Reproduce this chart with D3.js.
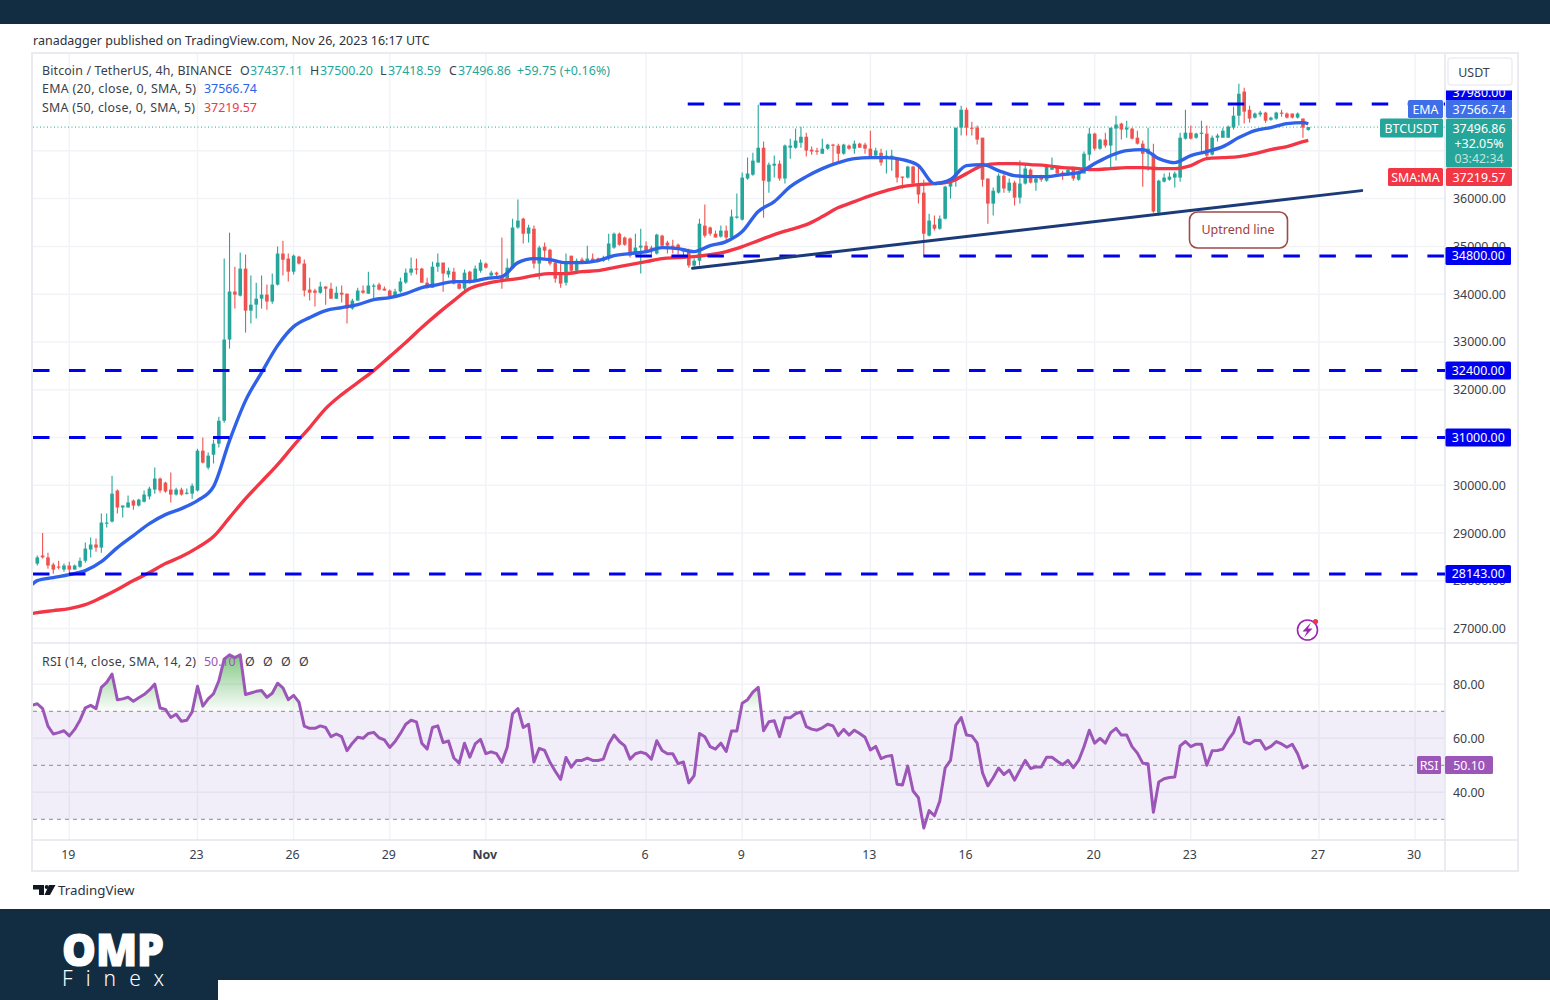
<!DOCTYPE html>
<html><head><meta charset="utf-8">
<script src="https://cdn.jsdelivr.net/npm/d3@7/dist/d3.min.js"></script>
<style>
html,body{margin:0;padding:0;background:#fff}
svg{display:block}
text{font-family:"Noto Sans",sans-serif}
.axis .domain,.axis line{display:none}
</style></head><body><svg id="c" width="1550" height="1000"></svg>
<script>
// ---------- data: 4h candles, bar 0 = 19 Oct 00:00, first bar = -6
const firstBar = -6;
const opens = [
28360,28530,28490,28340,28300,28235,28320,28235,28295,28420,
28655,28760,28695,29200,29240,29890,29535,29535,29680,29575,
29655,29765,29910,30140,30055,29910,29805,29910,29825,29825,
29890,30725,30370,30640,30870,31350,33050,34055,33970,34535,
33655,33780,33905,33990,33845,34200,34850,34745,34470,34785,
34640,34095,34075,34030,34160,34115,33905,34030,34010,33700,
33865,34075,34010,34160,34200,34115,34075,33950,34055,34245,
34450,34535,34535,34240,34135,34575,34660,34410,34470,34220,
34115,34470,34285,34490,34640,34390,34450,34345,34325,34555,
35395,35580,35265,35370,34640,34995,34930,34660,34430,34240,
34805,34490,34725,34660,34745,34745,34700,34745,34975,35265,
35185,35165,34850,34975,35015,34975,34850,35225,35080,35015,
35035,34890,34910,34600,34700,35435,35395,35265,35205,35330,
35185,35605,35560,36420,36500,36755,37065,36355,36690,36730,
36420,37065,37065,37170,37295,37025,37005,36940,37045,37130,
37110,36940,37110,37045,37150,37130,37045,36900,36960,36840,
36840,36840,36460,36440,36670,36270,36125,35225,35455,35370,
35580,36250,36375,37485,37860,37485,37485,37275,36420,35895,
36125,36480,36165,36335,36020,36315,36605,36335,36460,36375,
36605,36650,36545,36525,36630,36395,36525,36920,37360,37045,
37235,37110,37465,37570,37445,37465,37275,37150,36940,36940,
35705,36355,36395,36440,36440,37255,37380,37275,37360,37360,
36920,37275,37275,37275,37485,37735,38240,37860,37695,37760,
37800,37650,37675,37800,37780,37780,37695,37675,37437.11];
const highs = [
28530,29000,28590,28380,28420,28360,28400,28340,28490,28800,
28905,28885,29410,29410,30200,29910,29575,29785,29700,29720,
29890,29970,30370,30160,30075,30265,29950,29950,29930,30035,
30765,31000,30685,30955,31435,34745,35288,34575,34870,34830,
34390,34240,34390,34200,34430,34995,35120,34850,34830,34805,
34725,34345,34115,34260,34160,34240,34160,34180,34010,33905,
34135,34180,34470,34220,34240,34160,34095,34115,34345,34535,
34765,34745,34555,34345,34680,34850,34660,34555,34555,34240,
34515,34490,34600,34725,34660,34490,34470,35185,34745,35580,
35980,35600,35455,35435,35015,35080,34950,34700,34640,34850,
34805,34745,34765,35015,34850,34765,34805,35265,35290,35290,
35205,35185,35265,35370,35100,35015,35265,35245,35120,35140,
35060,34950,34950,34745,35580,35875,35415,35330,35435,35435,
35770,36105,36545,36860,36960,37965,37195,36755,36900,36795,
37130,37255,37465,37505,37380,37090,37065,37255,37150,37150,
37150,37150,37130,37215,37170,37170,37420,37065,37045,37005,
37025,36860,36460,36690,36690,36670,36395,35685,35645,35645,
36270,36420,37485,37945,37905,37610,37530,37275,36420,36230,
36525,36525,36420,36375,36795,36710,36630,36440,36500,36710,
36860,36670,36585,36650,36670,36585,36985,37485,37380,37255,
37380,37485,37735,37590,37630,37485,37420,37215,37485,37150,
36395,36525,36545,36565,37380,37860,37530,37380,37630,37530,
37320,37360,37485,37530,37925,38405,38320,37945,37800,37840,
37820,37715,37820,37860,37800,37780,37800,37675,37500.20];
const lows = [
28320,28465,28255,28150,28235,28190,28110,28235,28275,28380,
28490,28610,28590,29115,29220,29410,29325,29535,29490,29555,
29640,29700,29825,29845,29845,29640,29785,29785,29805,29720,
29870,30455,30330,30455,30790,31310,32860,33700,33950,33195,
33385,33490,33700,33675,33800,34180,34390,34265,34410,34620,
33950,33865,33740,34010,33780,33905,33905,33825,33385,33675,
33865,34010,34010,33905,34075,34075,33930,33930,34030,34220,
34390,34410,34240,34115,34135,34470,34050,34345,34200,34095,
34010,34220,34265,34450,34535,34365,34325,34115,34285,34535,
35370,35060,35080,34535,34305,34765,34600,34240,34135,34180,
34430,34470,34640,34640,34660,34660,34680,34700,34950,35015,
35015,34765,34805,34430,34850,34830,34830,34975,34850,34850,
34830,34765,34555,34575,34600,35185,35225,35185,35185,35120,
35185,35580,35540,36395,36480,36755,35600,36125,36440,36375,
36315,36835,37045,37065,36880,36920,36920,36940,37025,36690,
36755,36920,37025,36940,37065,36940,36840,36840,36690,36525,
36585,36335,36210,36420,36270,35895,34805,35205,35330,35350,
35560,36000,36250,37320,37320,37320,37130,36250,35475,35645,
36105,36125,36125,35855,35895,36295,36315,36165,36355,36355,
36605,36525,36395,36480,36375,36375,36525,36795,37005,37025,
37065,36650,36795,37235,37275,37235,37130,36250,36585,35705,
35645,36335,36375,36230,36355,37235,37235,37255,36960,36835,
36900,37195,37275,37275,37445,37530,37570,37590,37675,37715,
37590,37630,37650,37715,37675,37675,37675,37275,37418.59];
const closes = [
28490,28490,28320,28235,28280,28320,28235,28320,28420,28675,
28760,28695,29220,29220,29825,29535,29575,29640,29575,29700,
29805,29930,30140,29890,29870,29805,29910,29805,29845,29990,
30725,30475,30620,30870,31350,33050,34055,33990,34535,33655,
33780,33905,33990,33845,34200,34850,34720,34470,34805,34640,
34075,34030,34030,34160,34115,33905,34030,33990,33700,33865,
34075,34030,34180,34180,34095,34075,33950,34055,34265,34450,
34535,34515,34240,34135,34575,34660,34430,34490,34220,34115,
34450,34240,34535,34660,34555,34450,34410,34285,34555,35395,
35540,35265,35395,34640,34975,34910,34640,34325,34220,34640,
34490,34700,34660,34745,34680,34680,34745,35060,35265,35035,
35035,34805,34975,35015,34910,34955,35245,35015,35015,34995,
34930,34930,34600,34700,35475,35225,35265,35185,35330,35185,
35625,35625,36440,36525,36795,37065,36375,36710,36730,36420,
37110,37110,37215,37295,37005,36985,36985,37045,37130,37110,
36940,37130,37045,37150,37065,37045,36860,37005,36755,36900,
36900,36440,36440,36670,36315,36085,35265,35540,35370,35580,
36250,36375,37485,37860,37485,37465,37235,36395,35895,36165,
36480,36210,36335,36020,36315,36630,36335,36420,36395,36670,
36650,36525,36525,36605,36420,36545,36940,37360,37045,37235,
37110,37485,37550,37445,37485,37255,37150,36940,37045,35730,
36375,36440,36460,36525,37275,37380,37255,37360,37380,36900,
37275,37320,37420,37505,37735,38195,37820,37675,37780,37800,
37630,37695,37800,37780,37695,37695,37780,37485,37496.86];

// moving averages read at the pane's left edge, then every third bar from bar -6, plus the last bar
const emaValues = [27921,
28005,28068,28130,28214,28402,28695,28947,29198,29386,29512,
29679,29972,30935,31772,32358,32923,33321,33509,33656,33719,
33781,33886,33928,34012,34137,34200,34263,34263,34326,34367,
34660,34744,34723,34660,34660,34702,34807,34849,34891,34974,
34953,34891,35016,35100,35309,35728,35937,36251,36460,36628,
36753,36837,36858,36858,36816,36691,36314,36398,36691,36712,
36586,36481,36460,36460,36502,36544,36733,36900,37005,37026,
36837,36753,36900,36984,37088,37277,37423,37486,37570,37591,37566.74];
const smaValues = [27314,
27335,27377,27419,27502,27649,27816,28005,28172,28361,28507,
28695,28926,29323,29721,30077,30433,30830,31207,31605,31898,
32149,32400,32693,32986,33300,33593,33865,34116,34221,34284,
34326,34388,34430,34430,34472,34493,34556,34619,34681,34744,
34765,34786,34828,34891,34995,35121,35246,35351,35456,35623,
35812,35937,36063,36167,36251,36293,36314,36356,36523,36691,
36733,36733,36712,36691,36649,36628,36607,36628,36649,36649,
36628,36628,36691,36837,36858,36879,36942,37026,37088,37193,37219.57];
const maBars = [-7].concat(d3.range(-6, 232, 3), [232]);

const rsiFirstBar = -7;
const rsiValues = [72.2,
72.8,71.0,64.5,61.6,62.1,62.8,60.9,63.3,66.7,71.3,
72.2,71.0,78.9,80.7,83.8,74.3,74.6,75.2,73.7,75.0,
76.2,77.9,80.1,71.2,70.7,67.7,68.9,66.3,66.7,69.8,
79.3,71.9,74.6,76.5,81.3,89.3,90.9,89.9,90.9,76.2,
76.8,77.4,77.7,75.2,76.7,80.4,78.7,74.3,75.9,73.4,
64.5,63.7,63.7,64.6,64.0,60.6,61.6,60.6,55.4,58.2,
60.4,60.0,61.8,62.2,60.2,59.4,56.6,58.8,61.8,65.2,
66.7,66.1,58.2,56.0,
64.0,64.6,58.4,59.0,52.7,50.8,58.2,53.0,57.9,59.6,54.3,55.0,54.3,51.1,56.7,69.1,71.0,64.0,65.2,51.2,
56.3,55.5,51.1,47.8,44.8,52.9,49.3,51.8,51.8,52.7,51.8,51.8,52.3,57.9,61.2,58.8,57.2,52.3,54.3,54.9,
54.3,52.3,59.1,55.5,54.3,54.3,50.6,51.2,43.5,46.2,61.8,60.6,56.9,56.0,58.2,55.1,62.7,62.7,73.0,74.3,
77.1,78.9,62.8,66.1,66.5,60.6,67.6,67.6,69.1,69.8,64.3,63.4,63.0,63.9,65.2,64.6,61.0,63.3,61.2,63.0,
61.8,60.4,55.7,57.0,52.5,53.3,53.6,43.0,42.7,49.7,40.5,38.0,26.8,33.2,
31.3,36.8,49.0,51.8,64.9,67.7,61.2,60.9,58.2,47.2,42.4,45.4,49.0,46.6,48.2,44.5,48.2,51.8,48.8,49.4,
49.4,53.0,53.0,51.5,50.2,51.8,49.1,51.8,56.9,63.0,58.2,60.0,58.2,62.1,63.7,61.2,61.2,56.9,54.5,50.8,
50.6,32.6,43.8,45.0,45.5,45.7,57.2,58.8,56.9,57.8,57.8,50.0,55.4,55.5,56.0,59.4,62.1,67.7,58.8,57.9,
59.2,59.2,56.0,57.0,58.8,57.9,56.7,57.8,54.3,49.0,50.10];

const levelPrices = [37980, 34800, 32400, 31000, 28143];
const levelStartBars = [115.8, 106, -6.8, -6.8, -6.8];
const trendBars = [116.7, 242];
const trendPrices = [34541, 36167];

const gridPrices = [27000,28000,29000,30000,31000,32000,33000,34000,35000,36000,37000];
const priceTicks = [27000,28000,29000,30000,32000,33000,34000,35000,36000];
const rsiTicks = [40,60,80];
const rsiGuides = [70,50,30];
const dayBars = [0,24,42,60,78,108,126,150,168,192,210,234,252];
const dayLabels = ["19","23","26","29","Nov","6","9","13","16","20","23","27","30"];

// ---------- palette / scales
const UP="#26a69a", DOWN="#ef5350", BLUE="#2f62e8", RED="#f23645", PURPLE="#9c56b8", NAVY="#122c42", LEVEL="#0000f0", TXT="#3a3e4a";
const svg=d3.select("#c");
const L=33,R=1445,T=54,PB=643,RT=644,RB=840,FR=1517,FB=870;
const x=d3.scaleLinear().domain([-6.8,257.6]).range([L,R]);
const y=d3.scaleLinear().domain([27000,36000]).range([628.6,198.6]);
const ry=d3.scaleLinear().domain([40,80]).range([792.3,684.3]);

// page furniture
svg.append("rect").attr("width",1550).attr("height",1000).attr("fill","#fff");
svg.append("rect").attr("width",1550).attr("height",24).attr("fill",NAVY);
svg.append("text").attr("x",33).attr("y",44.5).attr("font-size",12.5).attr("fill","#2e323c")
  .text("ranadagger published on TradingView.com, Nov 26, 2023 16:17 UTC");
svg.append("rect").attr("x",L-1).attr("y",T-1).attr("width",FR-L+2).attr("height",FB-T+2).attr("fill","#fff").attr("stroke","#e9ebf0").attr("stroke-width",2);

// gridlines
const grid=svg.append("g").attr("stroke","#f2f3f7").attr("stroke-width",1.5);
gridPrices.forEach(p=>grid.append("line").attr("x1",L).attr("x2",R).attr("y1",y(p)).attr("y2",y(p)));
rsiTicks.forEach(p=>grid.append("line").attr("x1",L).attr("x2",R).attr("y1",ry(p)).attr("y2",ry(p)));
dayBars.forEach(b=>grid.append("line").attr("x1",x(b)).attr("x2",x(b)).attr("y1",T).attr("y2",RB));

// RSI pane
svg.append("rect").attr("x",L).attr("width",R-L).attr("y",ry(70)).attr("height",ry(30)-ry(70)).attr("fill","#7e57c2").attr("opacity",.1);
const defs=svg.append("defs");
const gr=defs.append("linearGradient").attr("id","ob").attr("gradientUnits","userSpaceOnUse").attr("x1",0).attr("x2",0).attr("y1",ry(91)).attr("y2",ry(70));
gr.append("stop").attr("offset",0).attr("stop-color","#4caf50").attr("stop-opacity",.7);
gr.append("stop").attr("offset",1).attr("stop-color","#4caf50").attr("stop-opacity",.02);
defs.append("clipPath").attr("id","above").append("rect").attr("x",L).attr("y",RT).attr("width",R-L).attr("height",ry(70)-RT);
defs.append("clipPath").attr("id","rsiPane").append("rect").attr("x",L).attr("y",RT).attr("width",R-L).attr("height",RB-RT);
defs.append("clipPath").attr("id","mainPane").append("rect").attr("x",L).attr("y",T).attr("width",R-L).attr("height",PB-T);
defs.append("clipPath").attr("id","topTag").append("rect").attr("x",1446).attr("y",90.5).attr("width",66).attr("height",10);
const rsiData=rsiValues.map((v,i)=>({b:i+rsiFirstBar,v}));
svg.append("path").datum(rsiData).attr("clip-path","url(#above)").attr("fill","url(#ob)")
  .attr("d",d3.area().x(d=>x(d.b)).y0(ry(70)).y1(d=>ry(d.v)));
rsiGuides.forEach(g=>svg.append("line").attr("x1",L).attr("x2",R).attr("y1",ry(g)).attr("y2",ry(g))
  .attr("stroke","#8a8d96").attr("stroke-width",1).attr("stroke-dasharray","4 4"));
svg.append("path").datum(rsiData).attr("clip-path","url(#rsiPane)").attr("fill","none").attr("stroke",PURPLE).attr("stroke-width",3).attr("stroke-linejoin","round")
  .attr("d",d3.line().x(d=>x(d.b)).y(d=>ry(d.v)));

// pane separators
const sep=svg.append("g").attr("stroke","#e4e6ec").attr("stroke-width",1.5);
sep.append("line").attr("x1",L).attr("x2",FR).attr("y1",PB).attr("y2",PB);
sep.append("line").attr("x1",L).attr("x2",FR).attr("y1",RB).attr("y2",RB);
sep.append("line").attr("x1",R).attr("x2",R).attr("y1",T).attr("y2",FB);

// last-price dotted line
svg.append("line").attr("x1",L).attr("x2",R).attr("y1",y(closes[closes.length-1])).attr("y2",y(closes[closes.length-1]))
  .attr("stroke",UP).attr("stroke-width",1).attr("stroke-dasharray","1 2.5");

// candles
const main=svg.append("g").attr("clip-path","url(#mainPane)");
const candles=opens.map((o,i)=>({b:i+firstBar,o,h:highs[i],l:lows[i],c:closes[i]}));
main.append("g").selectAll("line").data(candles).join("line")
  .attr("x1",d=>x(d.b)).attr("x2",d=>x(d.b)).attr("y1",d=>y(d.h)).attr("y2",d=>y(d.l))
  .attr("stroke",d=>d.c>=d.o?UP:DOWN).attr("stroke-width",1.1);
main.append("g").selectAll("rect").data(candles).join("rect")
  .attr("x",d=>x(d.b)-1.8).attr("width",3.6)
  .attr("y",d=>y(Math.max(d.o,d.c))).attr("height",d=>Math.max(1.2,Math.abs(y(d.o)-y(d.c))))
  .attr("fill",d=>d.c>=d.o?UP:DOWN);

// moving averages
const maLine=d3.line().x(d=>x(d.b)).y(d=>y(d.v)).curve(d3.curveMonotoneX);
main.append("path").datum(smaValues.map((v,i)=>({b:maBars[i],v}))).attr("fill","none").attr("stroke",RED).attr("stroke-width",3.4).attr("d",maLine);
main.append("path").datum(emaValues.map((v,i)=>({b:maBars[i],v}))).attr("fill","none").attr("stroke",BLUE).attr("stroke-width",3.4).attr("d",maLine);

// horizontal levels
levelPrices.forEach((p,i)=>svg.append("line").attr("x1",x(levelStartBars[i])).attr("x2",R).attr("y1",y(p)).attr("y2",y(p))
  .attr("stroke",LEVEL).attr("stroke-width",3).attr("stroke-dasharray","16.5 19.5"));
// uptrend line
svg.append("line").attr("x1",x(trendBars[0])).attr("x2",x(trendBars[1])).attr("y1",y(trendPrices[0])).attr("y2",y(trendPrices[1]))
  .attr("stroke","#1b3a78").attr("stroke-width",3).attr("stroke-linecap","round");
// annotation
svg.append("rect").attr("x",1189.5).attr("y",212).attr("width",98).attr("height",36).attr("rx",8).attr("fill","#fff").attr("stroke","#a04a4a").attr("stroke-width",1.6);
svg.append("text").attr("x",1238).attr("y",234).attr("text-anchor","middle").attr("font-size",12.5).attr("fill","#a23c3c").text("Uptrend line");

// axes
const pAxis=svg.append("g").attr("class","axis").attr("transform",`translate(${R},0)`)
  .call(d3.axisRight(y).tickValues(priceTicks).tickFormat(d3.format(".2f")).tickSize(0).tickPadding(8));
const rAxis=svg.append("g").attr("class","axis").attr("transform",`translate(${R},0)`)
  .call(d3.axisRight(ry).tickValues(rsiTicks).tickFormat(d3.format(".2f")).tickSize(0).tickPadding(8));
const tAxis=svg.append("g").attr("class","axis").attr("transform",`translate(-1.5,${RB})`)
  .call(d3.axisBottom(x).tickValues(dayBars).tickFormat((d,i)=>dayLabels[i]).tickSize(0).tickPadding(10.5));
[pAxis,rAxis,tAxis].forEach(a=>a.selectAll("text").attr("font-family",'"Noto Sans",sans-serif').attr("font-size",12.4).attr("fill",TXT));
tAxis.selectAll("text").filter((d,i)=>dayLabels[i]==="Nov").attr("font-weight",700);

// price tags
function tag(xx,yy,w,h,fill,lines){
  svg.append("rect").attr("x",xx).attr("y",yy).attr("width",w).attr("height",h).attr("rx",1.5).attr("fill",fill);
  lines.forEach(l=>svg.append("text").attr("x",xx+w/2).attr("y",l[1]).attr("text-anchor","middle").attr("font-size",12.4).attr("fill",l[2]||"#fff").text(l[0]));
}
// 37980 tag: pushed up by the tags below and cut off at its top
svg.append("rect").attr("x",1446).attr("y",90.5).attr("width",66).attr("height",10).attr("fill",LEVEL);
svg.append("text").attr("clip-path","url(#topTag)").attr("x",1479).attr("y",96.5).attr("text-anchor","middle").attr("font-size",12.4).attr("fill","#fff").text("37980.00");
[34800,32400,31000,28143].forEach(p=>{const c=y(p);tag(1445.5,c-9,65.5,18,LEVEL,[[d3.format(".2f")(p),c+4.5]]);});
tag(1408,100,35,18,"#3f6fe8",[["EMA",113.5]]);
tag(1446,100,66,18,"#3f6fe8",[["37566.74",113.5]]);
tag(1380,118.5,63,19,UP,[["BTCUSDT",132.5]]);
tag(1446,118.5,66,49,UP,[["37496.86",132.5],["+32.05%",147.5],["03:42:34",162.5,"#bfe6e1"]]);
tag(1388,168,55,18,RED,[["SMA:MA",181.5]]);
tag(1446,168,66,18,RED,[["37219.57",181.5]]);
tag(1417,756,24,18,PURPLE,[["RSI",769.5]]);
tag(1445,756,48,18,PURPLE,[["50.10",769.5]]);

// currency box
svg.append("rect").attr("x",1448).attr("y",58).attr("width",64).attr("height",27).attr("rx",3).attr("fill","#fff").attr("stroke","#eceef2").attr("stroke-width",1.5);
svg.append("text").attr("x",1474).attr("y",77).attr("text-anchor","middle").attr("font-size",12.4).attr("fill",TXT).text("USDT");

// legend
function legend(yy,parts){parts.forEach(p=>{const t=svg.append("text").attr("x",p[0]).attr("y",yy).attr("font-size",12.4).attr("fill",p[2]||TXT).text(p[1]);
  if(p[3])t.attr("textLength",p[3]);});}
legend(74.5,[[42,"Bitcoin / TetherUS, 4h, BINANCE",TXT,190],[240,"O"],[250,"37437.11",UP],[310,"H"],[320,"37500.20",UP],[380,"L"],[388,"37418.59",UP],[449,"C"],[458,"37496.86",UP],[517,"+59.75 (+0.16%)",UP,93]]);
legend(92.5,[[42,"EMA (20, close, 0, SMA, 5)",TXT,154],[204,"37566.74",BLUE]]);
legend(111.5,[[42,"SMA (50, close, 0, SMA, 5)",TXT,153],[204,"37219.57",RED]]);
legend(665.5,[[42,"RSI (14, close, SMA, 14, 2)",TXT,154],[204,"50.10",PURPLE],[245,"Ø"],[263,"Ø"],[281,"Ø"],[299,"Ø"]]);

// flash icon
svg.append("circle").attr("cx",1307.5).attr("cy",630).attr("r",10).attr("fill","#fff").attr("stroke","#9c27b0").attr("stroke-width",1.6);
svg.append("path").attr("d","M1311 622.5 L1302.5 631.5 L1307 631.5 L1304 637.5 L1312.5 628.5 L1308 628.5 Z").attr("fill","#9c27b0");
svg.append("circle").attr("cx",1315.5).attr("cy",621.5).attr("r",2.6).attr("fill","#f23645");

// TradingView mark
svg.append("path").attr("d","M33 885 H44 V895 H39 V889.5 H33 Z M49 885 H55.5 L50 895 H44.5 Z").attr("fill","#131722");
svg.append("circle").attr("cx",46.7).attr("cy",887).attr("r",2).attr("fill","#131722");
svg.append("text").attr("x",58).attr("y",895).attr("font-size",13.3).attr("fill","#2e323c").text("TradingView");

// footer
svg.append("rect").attr("y",909).attr("width",1550).attr("height",91).attr("fill",NAVY);
svg.append("rect").attr("x",218).attr("y",980).attr("width",1332).attr("height",20).attr("fill","#fff");
svg.append("text").attr("x",62).attr("y",966).attr("font-family","Lato").attr("font-weight",900).attr("font-size",45).attr("fill","#fff")
  .attr("textLength",102).attr("lengthAdjust","spacingAndGlyphs").attr("stroke","#fff").attr("stroke-width",1.2).text("OMP");
svg.append("text").attr("x",62).attr("y",986).attr("font-family","Lato").attr("font-weight",300).attr("font-size",21).attr("fill","#fff")
  .attr("textLength",102).text("Finex");
</script></body></html>
